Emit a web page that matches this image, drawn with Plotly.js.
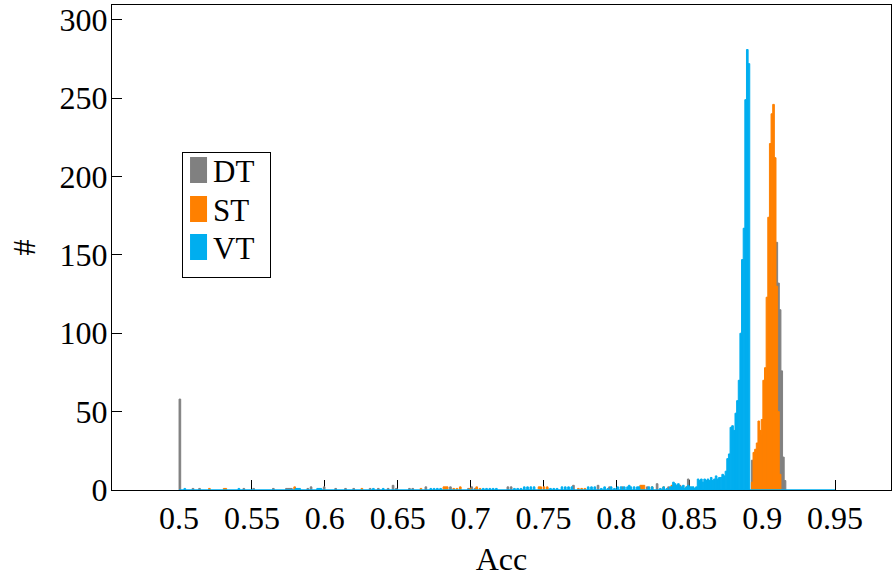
<!DOCTYPE html>
<html>
<head>
<meta charset="utf-8">
<script src="https://cdn.plot.ly/plotly-3.0.1.min.js"></script>
<style>html,body{margin:0;padding:0;background:#fff;}#chart{width:893px;height:577px;}</style>
</head>
<body>
<div id="chart"></div>
<script>
// Histogram definition: 400 bins over Acc in [0.5, 0.95]
const binStart = 0.5;
const binEnd = 0.95;
const nBins = 400;

const seriesNames = ['DT', 'ST', 'VT'];

// DT: sparse tail (bin index -> count) and contiguous peak
const dtTailBins   = [0,8,12,39,45,57,65,66,67,68,78,80,88,95,101,106,116,121,127,130,132,140,142,150,165,176,178,180,200,202,224,240,255,262,270,285,291,298,305,310,318,322];
const dtTailCounts = [58,1,1,1,1,1,1,1,1,1,1,2,2,1,1,1,1,1,1,3,1,1,1,2,2,1,2,1,2,2,1,3,3,2,2,2,4,2,3,7,5,6];
const dtPeakStart  = 349;
const dtPeakCounts = [19,15,18,20,25,30,35,45,55,70,90,110,130,145,155,158,132,115,76,21,6];

// ST
const stTailBins   = [18,27,28,70,111,147,161,162,163,167,169,171,177,181,183,219,220,222,224,243,245,247,281,282,283,288,295,300,309];
const stTailCounts = [1,1,1,2,1,1,2,2,2,1,1,2,1,2,1,2,2,2,2,1,1,1,3,3,3,2,2,3,2];
const stPeakStart  = 349;
const stPeakCounts = [5,24,26,30,44,38,45,70,78,123,174,221,240,246,212,130,50,10];

// VT
const vtTailBins   = [3,36,71,72,73,84,85,86,118,124,153,155,157,159,185,187,189,191,193,204,206,208,210,212,214,216,226,228,230,233,235,237,239,249,251,253,257,259,261,263,265,267,269,271,273,274,275,277,279,280,286,288,293,295,297,299];
const vtTailCounts = [1,1,1,1,1,1,1,1,1,1,1,1,1,1,1,1,1,1,1,1,1,1,2,2,2,2,1,1,1,2,2,2,2,2,2,2,1,2,1,2,1,2,2,2,2,3,2,2,2,2,2,2,1,2,1,2];
const vtPeakStart  = 300;
const vtPeakCounts = [2,5,4,3,4,2,2,3,1,2, 3,2,2,2,1,2,7,6,7,5, 7,6,7,6,8,6,7,9,7,8, 8,10,9,12,20,23,40,41,38,49, 57,70,100,147,167,249,281,272];

const xTicks = [0.5,0.55,0.6,0.65,0.7,0.75,0.8,0.85,0.9,0.95];
const xTickText = ['0.5','0.55','0.6','0.65','0.7','0.75','0.8','0.85','0.9','0.95'];
const yTicks = [0,50,100,150,200,250,300];

const colors = {DT: '#808080', ST: '#FF8000', VT: '#00AEEF'};
const binW = (binEnd - binStart) / nBins;

function build(tailBins, tailCounts, peakStart, peakCounts) {
  const counts = new Array(nBins).fill(0);
  tailBins.forEach((b, i) => { counts[b] += tailCounts[i]; });
  peakCounts.forEach((c, i) => { counts[peakStart + i] = c; });
  const x = [], y = [];
  counts.forEach((c, i) => { if (c > 0) { x.push(binStart + (i + 0.5) * binW); y.push(c); } });
  return {x, y};
}

const dt = build(dtTailBins, dtTailCounts, dtPeakStart, dtPeakCounts);
const st = build(stTailBins, stTailCounts, stPeakStart, stPeakCounts);
const vt = build(vtTailBins, vtTailCounts, vtPeakStart, vtPeakCounts);

function barTrace(name, d) {
  return {
    type: 'bar', name: name, x: d.x, y: d.y, width: binW,
    marker: {color: colors[name], line: {width: 1, color: colors[name]}},
    hoverinfo: 'x+y+name'
  };
}

const traces = [
  barTrace('DT', dt),
  barTrace('ST', st),
  barTrace('VT', vt),
  {type: 'scatter', mode: 'lines', x: [binStart, binEnd], y: [0, 0],
   line: {color: colors.VT, width: 1.5}, showlegend: false, cliponaxis: false, hoverinfo: 'skip'}
];

const fontFam = 'Liberation Serif, Times New Roman, serif';
const layout = {
  width: 893, height: 577,
  margin: {l: 112, r: 2, t: 5, b: 87},
  paper_bgcolor: '#fff', plot_bgcolor: '#fff',
  barmode: 'overlay',
  bargap: 0,
  showlegend: true,
  font: {family: fontFam, size: 32, color: '#000'},
  legend: {
    x: 0.0899, y: 0.697, xanchor: 'left', yanchor: 'top',
    bgcolor: '#fff', bordercolor: '#000', borderwidth: 1,
    font: {family: fontFam, size: 31, color: '#000'},
    itemwidth: 30, tracegroupgap: 0
  },
  xaxis: {
    range: [0.4540, 0.9884],
    tickvals: xTicks, ticktext: xTickText,
    ticks: 'inside', ticklen: 10, tickcolor: '#000', tickwidth: 1,
    showline: true, linecolor: '#000', linewidth: 1, mirror: true,
    showgrid: false, zeroline: false,
    layer: 'below traces',
    tickfont: {family: fontFam, size: 32, color: '#000'},
    title: {text: 'Acc', font: {family: fontFam, size: 32, color: '#000'}, standoff: 12}
  },
  yaxis: {
    range: [0, 309.4],
    tickvals: yTicks,
    ticks: 'inside', ticklen: 10, tickcolor: '#000', tickwidth: 1,
    showline: true, linecolor: '#000', linewidth: 1, mirror: true,
    showgrid: false, zeroline: false,
    layer: 'below traces',
    ticklabelstandoff: -3,
    tickfont: {family: fontFam, size: 32, color: '#000'},
    title: {text: '#', font: {family: fontFam, size: 32, color: '#000'}, standoff: 14}
  }
};

const legendItemCenters = [170, 209, 247]; // pgfplots legend row centres (px)
const legendBoxHeight = 125;

const gd = document.getElementById('chart');
Plotly.newPlot(gd, traces, layout, {staticPlot: true, displayModeBar: false}).then(function () {
  const items = gd.querySelectorAll('.legend .traces');
  items.forEach(function (g, i) {
    g.querySelectorAll('.legendpoints path').forEach(function (p) {
      p.setAttribute('d', 'M4,13H-13V-13H4Z');
      p.style.strokeWidth = '0px';
    });
    const txt = g.querySelector('text.legendtext');
    if (txt) txt.setAttribute('x', parseFloat(txt.getAttribute('x') || 40) - 10);
    const sw = g.querySelector('.legendpoints path');
    if (sw) {
      const r = sw.getBoundingClientRect();
      const cy = r.top + r.height / 2;
      const m = /translate\(\s*([-\d.e]+)[ ,]+([-\d.e]+)\s*\)/.exec(g.getAttribute('transform') || 'translate(0,0)');
      if (m) g.setAttribute('transform', 'translate(' + m[1] + ',' + (parseFloat(m[2]) + legendItemCenters[i] - cy) + ')');
    }
  });
  const bg = gd.querySelector('.legend rect.bg');
  if (bg) bg.setAttribute('height', legendBoxHeight);
});
</script>
</body>
</html>
